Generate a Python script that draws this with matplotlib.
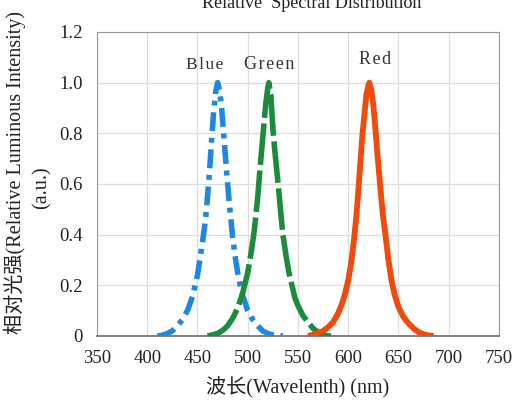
import matplotlib
matplotlib.use('Agg')
import matplotlib.pyplot as plt

plt.rcParams['font.family'] = ['Liberation Serif', 'Noto Sans CJK SC']

# wavelength (nm) / relative intensity
blue_x = [410, 415, 420, 425, 430, 435, 440, 445, 450, 455, 458, 460, 462, 464, 466, 468, 470,
          472, 474, 476, 478, 480, 482, 485, 488, 490, 493, 495, 500, 505, 510, 515, 520, 525, 530, 535]
blue_y = [0.0, 0.003, 0.01, 0.02, 0.04, 0.065, 0.10, 0.155, 0.24, 0.37, 0.46, 0.55, 0.65, 0.77, 0.88, 0.96, 1.0,
          0.97, 0.90, 0.80, 0.70, 0.60, 0.51, 0.39, 0.30, 0.25, 0.19, 0.16, 0.10, 0.065, 0.04, 0.02, 0.01, 0.004, 0.0, 0.0]

green_x = [460, 465, 470, 475, 480, 485, 490, 495, 500, 503, 506, 508, 510, 512, 514, 516, 518, 520, 521,
           523, 525, 527, 529, 531, 533, 535, 538, 541, 544, 547, 550, 555, 560, 565, 570, 575, 580, 583]
green_y = [0.0, 0.004, 0.01, 0.022, 0.04, 0.07, 0.11, 0.17, 0.25, 0.32, 0.40, 0.47, 0.55, 0.65, 0.74, 0.83, 0.92, 0.98, 1.0,
           0.95, 0.82, 0.73, 0.65, 0.57, 0.48, 0.40, 0.32, 0.25, 0.20, 0.15, 0.12, 0.08, 0.055, 0.03, 0.015, 0.005, 0.0, 0.0]

red_x = [560, 565, 570, 575, 580, 585, 590, 594, 597, 600, 603, 606, 608, 610, 612, 614, 616, 618, 620, 621,
         623, 625, 627, 629, 631, 633, 635, 637, 640, 643, 646, 650, 655, 660, 665, 670, 675, 680, 685]
red_y = [0.0, 0.005, 0.012, 0.02, 0.035, 0.055, 0.09, 0.13, 0.17, 0.22, 0.29, 0.39, 0.47, 0.57, 0.68, 0.79, 0.87, 0.95, 0.99, 1.0,
         0.97, 0.91, 0.82, 0.72, 0.63, 0.54, 0.46, 0.40, 0.30, 0.22, 0.165, 0.115, 0.075, 0.05, 0.03, 0.015, 0.007, 0.002, 0.0]

x_ticks = [350, 400, 450, 500, 550, 600, 650, 700, 750]
y_ticks = [0, 0.2, 0.4, 0.6, 0.8, 1.0, 1.2]
y_tick_labels = ['0', '0.2', '0.4', '0.6', '0.8', '1.0', '1.2']

hs = '\u200a'

fig = plt.figure(figsize=(5.15, 4.01), dpi=100)
ax = fig.add_axes([0.1883, 0.1621, 0.7806, 0.7581])

ax.plot(blue_x, blue_y, color='#1e88e0', lw=4.0, linestyle=(0, (3.4, 1.2, 0.9, 1.2)),
        dash_capstyle='butt', zorder=3)
ax.plot(green_x, green_y, color='#1a8c3c', lw=4.0, linestyle=(0, (7.5, 1.0)),
        dash_capstyle='butt', zorder=3)
ax.plot(red_x, red_y, color='#f04a0c', lw=4.2, solid_capstyle='butt', zorder=3)

ax.text(457.5, 1.07, hs.join('Blue'), fontsize=12.5, ha='center', va='center', color='#333333')
ax.text(521, 1.07, hs.join('Green'), fontsize=13, ha='center', va='center', color='#333333')
ax.text(626.5, 1.093, hs.join('Red'), fontsize=13, ha='center', va='center', color='#333333')

ax.set_xlim(350, 750)
ax.set_ylim(0, 1.2)
ax.set_xticks(x_ticks)
ax.set_yticks(y_ticks)
ax.set_yticklabels(y_tick_labels)
ax.tick_params(length=0, labelsize=13.5, colors='#222222', pad=10)
ax.grid(True, color='#dddddd', lw=0.9)
ax.set_axisbelow(True)
for s in ['top', 'right', 'left']:
    ax.spines[s].set_color('#999999')
ax.spines['bottom'].set_color('#777777')
ax.spines['bottom'].set_linewidth(1.3)

ax.set_xlabel('波长(Wavelenth) (nm)', fontsize=14.5, labelpad=7, color='#222222')
fig.text(15 / 515, 1 - 172 / 401, '相对光强(Relative Luminous Intensity)', rotation=90,
         fontsize=14.5, ha='center', va='center', color='#222222')
fig.text(42 / 515, 1 - 188 / 401, '(a.u.)', rotation=90,
         fontsize=14.5, ha='center', va='center', color='#222222')
fig.text(312 / 515, 1 - 8 / 401, 'Relative  Spectral Distribution', fontsize=13,
         ha='center', va='baseline', color='#222222')

fig.savefig('out.png', dpi=100)
